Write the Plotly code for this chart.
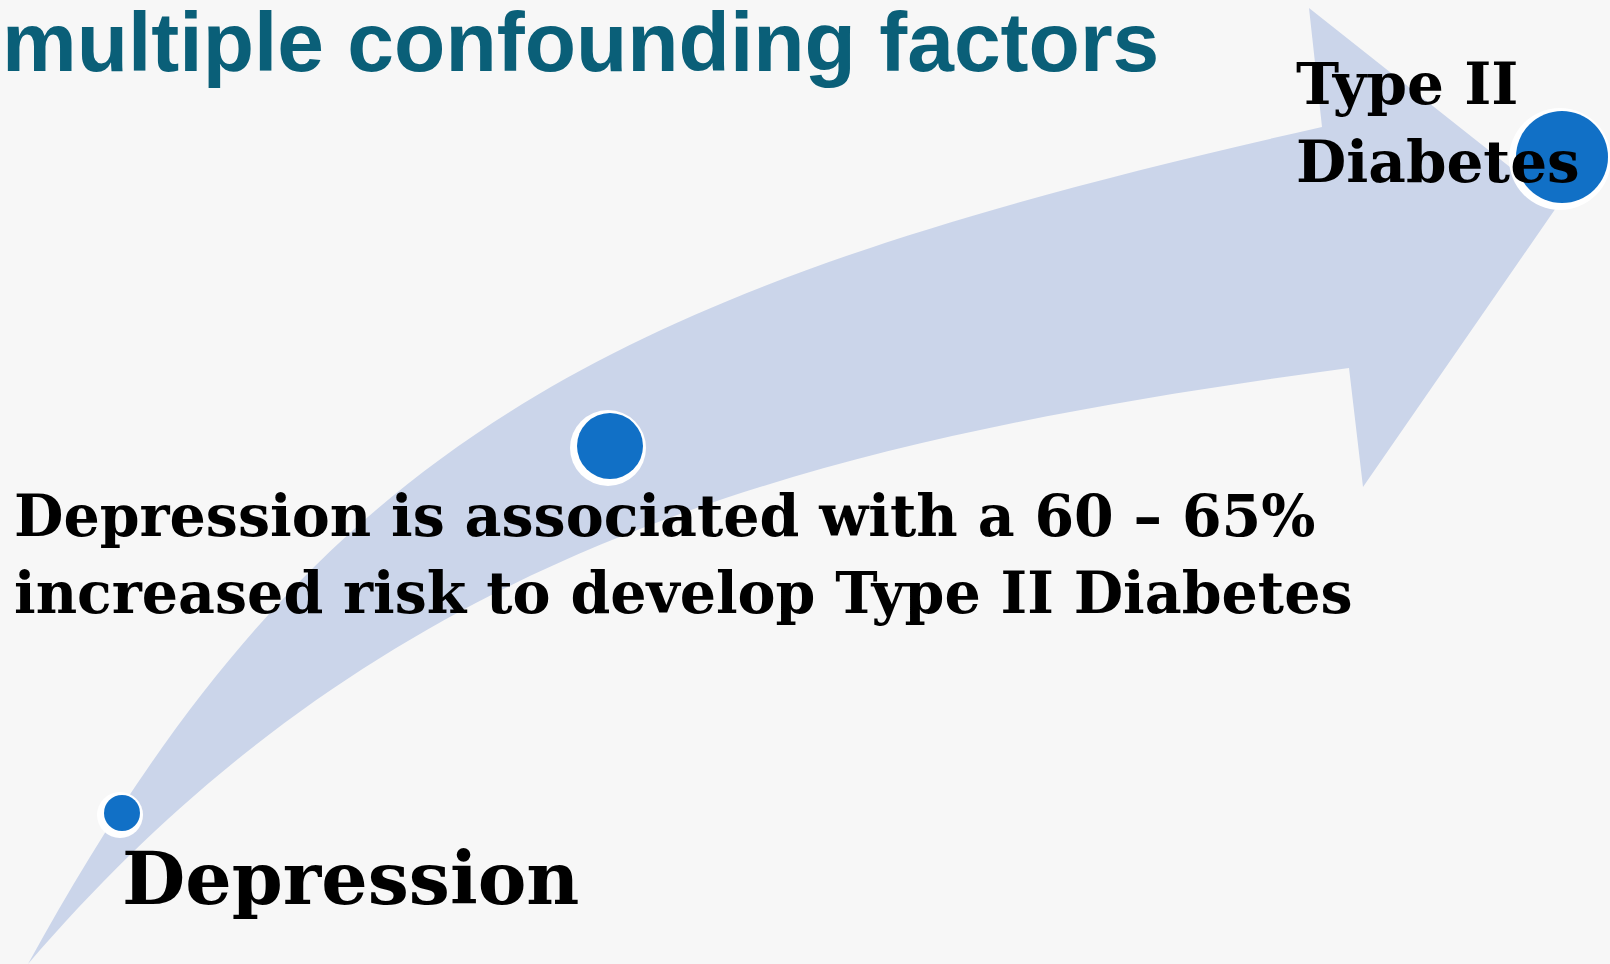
import plotly.graph_objects as go

W, H = 1610, 964
BG = "#f7f7f7"
ARROW = "#cbd5ea"
DOT = "#1170c6"
TITLE = "#0a5f78"
INK = "#000000"
SERIF = "DejaVu Serif"

# stages along the arrow (pixel space, y down)
stage_x = [122, 610, 1562]
stage_y = [813, 446, 157]
stage_r = [18, 33, 46]

title_text = "multiple confounding factors"
start_label = "Depression"
end_label = ["Type II", "Diabetes"]
claim_lines = [
    "Depression is associated with a 60 – 65%",
    "increased risk to develop Type II Diabetes",
]

fig = go.Figure()

# curved arrow: upper edge, head, lower edge
arrow_path = (
    "M 28 964 C 316 440 602 289 1322 127 "
    "L 1309 8 L 1558 205 L 1363 487 L 1349 368 "
    "C 804 442 386 547 28 964 Z"
)
fig.add_shape(type="path", path=arrow_path, xref="x", yref="y",
              fillcolor=ARROW, line=dict(width=0), layer="below")

# white halo (slightly down-left) then the blue dots
fig.add_trace(go.Scatter(
    x=[v - 2 for v in stage_x], y=[v + 2 for v in stage_y], mode="markers",
    marker=dict(size=[2 * r + 10 for r in stage_r], color="white", opacity=1, line=dict(width=0)),
    hoverinfo="skip", showlegend=False,
))
fig.add_trace(go.Scatter(
    x=stage_x, y=stage_y, mode="markers",
    marker=dict(size=[2 * r for r in stage_r], color=DOT, opacity=1, line=dict(width=0)),
    hoverinfo="skip", showlegend=False,
))


def label(text, x, y, size, family=SERIF, color=INK, xshift=0):
    fig.add_annotation(
        x=x, y=y, xref="x", yref="y", text=text, showarrow=False,
        xanchor="left", yanchor="middle", align="left", xshift=xshift,
        font=dict(family=family, size=size, color=color, weight="bold"),
    )


label(title_text, 0, 42, 84, family="Liberation Sans", color=TITLE)
label(claim_lines[0], 12, 515, 57)
label(claim_lines[1], 12, 592, 57)
label(start_label, 120, 878, 73)
label(end_label[0], 1294, 84, 58)
label(end_label[1], 1294, 162, 58)

fig.update_layout(
    width=W, height=H,
    margin=dict(l=0, r=0, t=0, b=0),
    paper_bgcolor=BG, plot_bgcolor=BG,
    xaxis=dict(range=[0, W], visible=False, fixedrange=True),
    yaxis=dict(range=[H, 0], visible=False, fixedrange=True),
    showlegend=False,
)

fig.write_html(
    "out.html",
    config={"displayModeBar": False},
    post_script="document.body.style.margin='0';document.body.style.overflow='hidden';",
)
